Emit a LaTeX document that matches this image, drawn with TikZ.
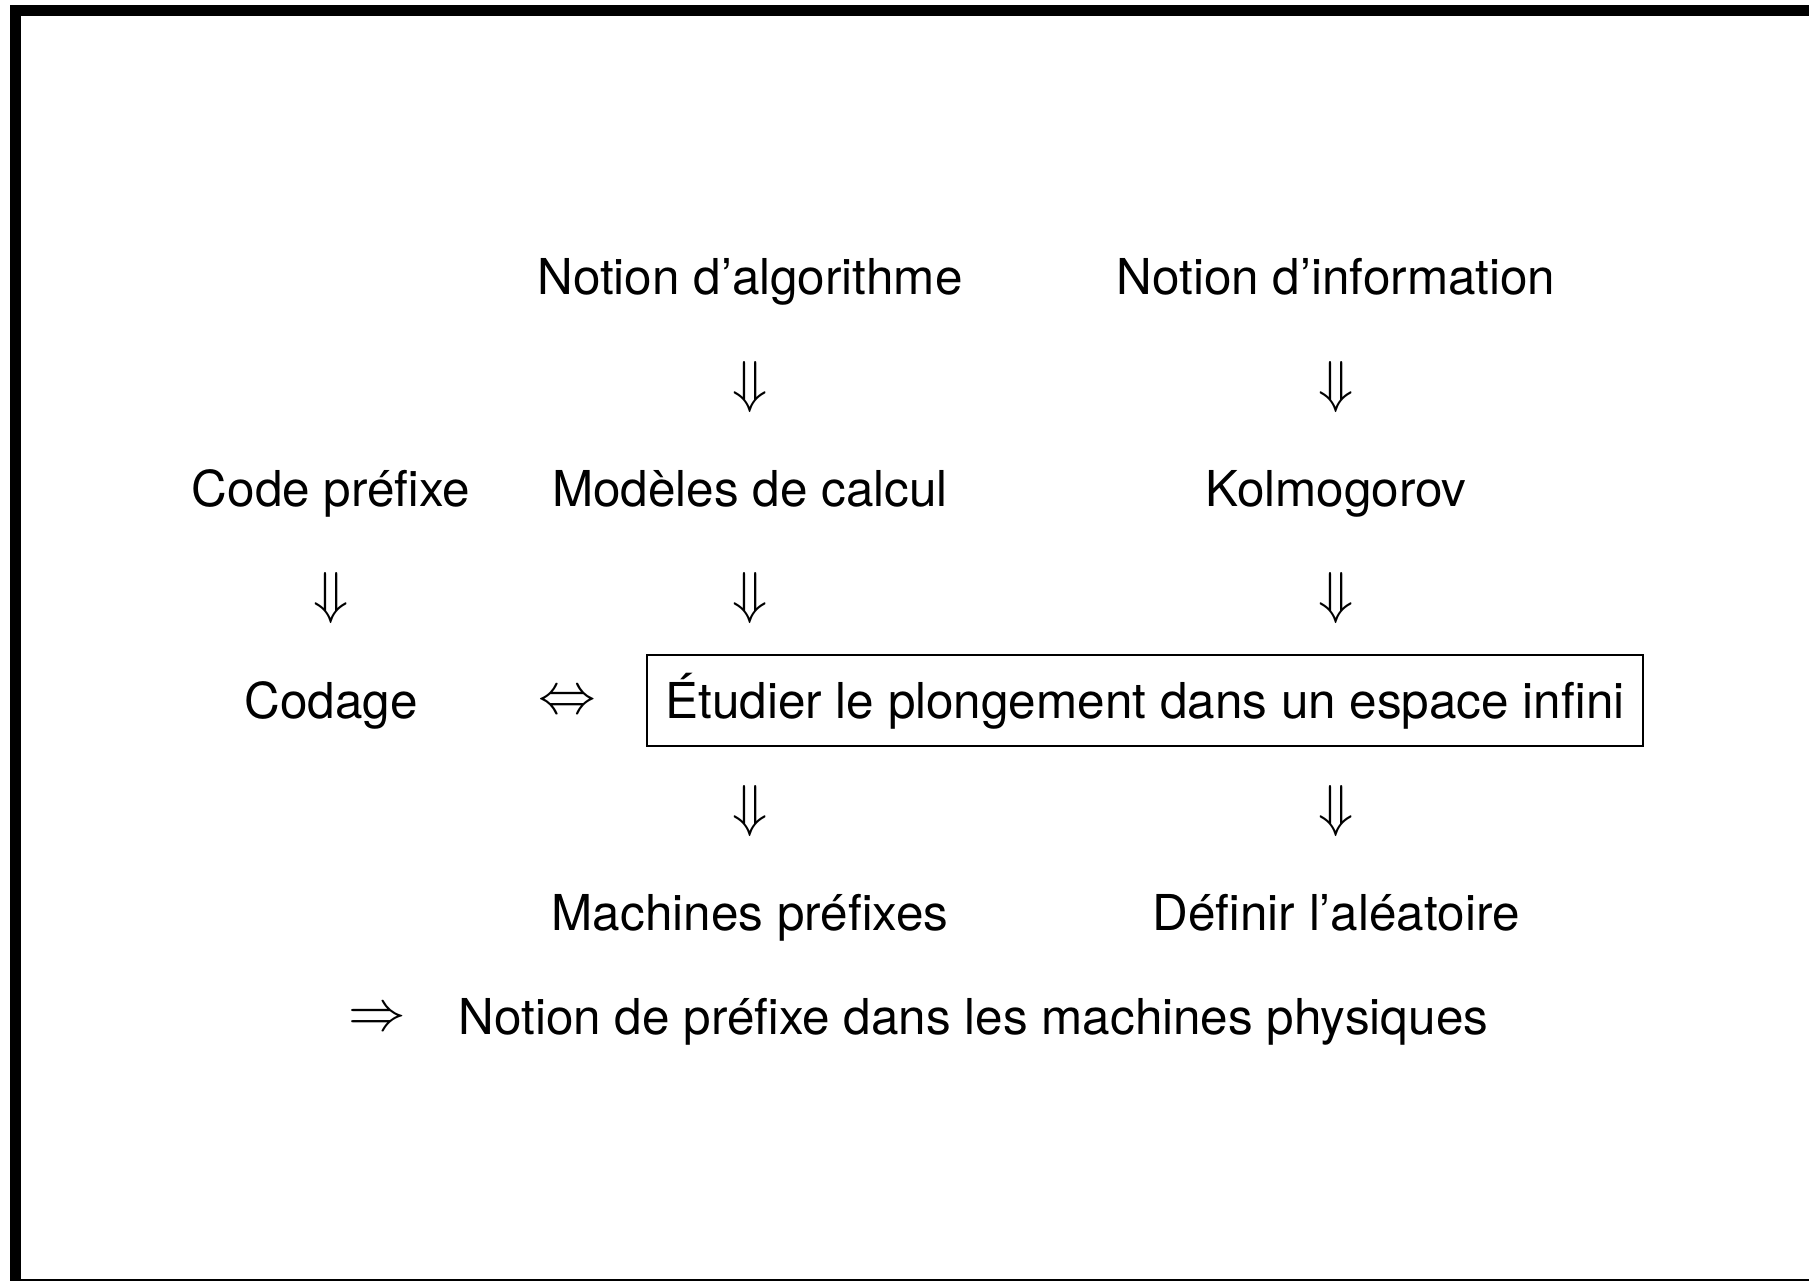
\documentclass[tikz,border=0pt]{standalone}
\usepackage{fontspec}
\setmainfont{TeX Gyre Heros}
\begin{document}
\begin{tikzpicture}[x=0.25pt,y=-0.25pt,
  txt/.style={inner sep=0pt,anchor=base,font=\fontsize{12.36}{15}\selectfont},
  arr/.style={inner sep=0pt,font=\fontsize{13.5}{16}\selectfont},
  framebar/.style={fill=black,draw=none}]
\useasboundingbox (0,0) rectangle (1809,1281);
% frame
\fill[framebar] (10,5) rectangle (1809,16);
\fill[framebar] (10,5) rectangle (21,1281);
\fill[framebar] (10,1279) rectangle (1809,1281);
% row 1
\node[txt] (alg) at (750,295) {Notion d’algorithme};
\node[txt] (inf) at (1336,295) {Notion d’information};
\node[arr] (a1) at (750,387) {$\Downarrow$};
\node[arr] (a2) at (1336,387) {$\Downarrow$};
% row 2
\node[txt] (code) at (331,507) {Code préfixe};
\node[txt] (mod) at (750,507) {Modèles de calcul};
\node[txt] (kol) at (1336,507) {Kolmogorov};
\node[arr] (a3) at (331,598) {$\Downarrow$};
\node[arr] (a4) at (750,598) {$\Downarrow$};
\node[arr] (a5) at (1336,598) {$\Downarrow$};
% row 3
\node[txt] (cod) at (331,719) {Codage};
\node[arr] (eq) at (567,703) {$\Leftrightarrow$};
\draw[line width=0.35pt] (647,655) rectangle (1643,746);
\node[txt] (etu) at (1145,719) {Étudier le plongement dans un espace infini};
\node[arr] (a6) at (750,811) {$\Downarrow$};
\node[arr] (a7) at (1336,811) {$\Downarrow$};
% row 4
\node[txt] (mach) at (750,931) {Machines préfixes};
\node[txt] (alea) at (1336,931) {Définir l’aléatoire};
% row 5
\node[arr] (imp) at (377,1020) {$\Rightarrow$};
\node[txt,anchor=base west] (phys) at (458,1035) {Notion de préfixe dans les machines physiques};
\end{tikzpicture}
\end{document}
